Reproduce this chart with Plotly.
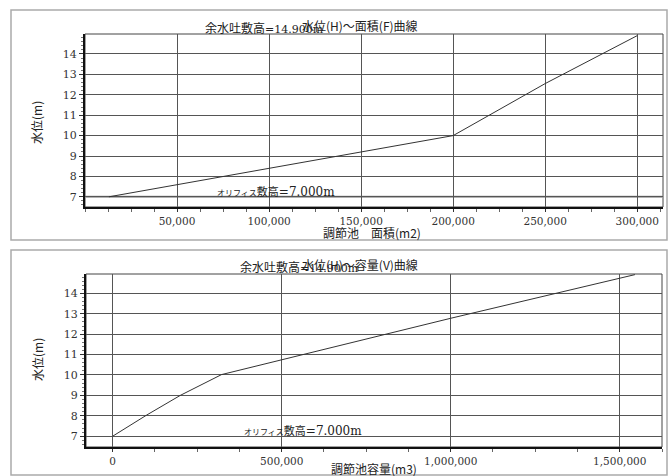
import plotly.graph_objects as go

W, H = 668, 476

# Data
area_x = [13000, 200000, 250000, 300000]
area_h = [7.0, 10.0, 12.55, 14.9]
vol_x = [0, 100000, 200000, 322000, 1000000, 1545000]
vol_h = [7.0, 8.03, 9.0, 10.02, 12.78, 14.92]

top_xticks = [50000, 100000, 150000, 200000, 250000, 300000]
bot_xticks = [0, 500000, 1000000, 1500000]
y_ticks = [7, 8, 9, 10, 11, 12, 13, 14]

top_title = "水位(H)～面積(F)曲線"
bot_title = "水位(H)～容量(V)曲線"
ser = "font-family:'DejaVu Serif'"
spill_label = f"余水吐敷高<span style=\"{ser};font-size:11px\">=14.900m</span>"
orifice_label = (f"<span style='font-size:8px'>オリフィス</span>敷高"
                 f"<span style=\"{ser};font-size:12px\">=7.000m</span>")
y_title = "水位(m)"
top_x_title = "調節池　面積(m2)"
bot_x_title = "調節池容量(m3)"

def px(x):
    return x / W

def py(y):
    return 1 - y / H

fig = go.Figure()
fig.add_trace(go.Scatter(x=area_x, y=area_h, mode="lines",
                         line=dict(color="#333", width=1), xaxis="x", yaxis="y",
                         showlegend=False, hoverinfo="skip"))
fig.add_trace(go.Scatter(x=vol_x, y=vol_h, mode="lines",
                         line=dict(color="#333", width=1), xaxis="x2", yaxis="y2",
                         showlegend=False, hoverinfo="skip"))

tickfont = dict(family="DejaVu Serif", size=10.5, color="#333")
cjk = "Noto Sans CJK JP"

def xax(domain, rng, tickvals, minor, anchor):
    return dict(domain=domain, range=rng, anchor=anchor, tickmode="array",
                tickvals=tickvals, tickformat=",d", showgrid=True,
                gridcolor="#555", gridwidth=1, zeroline=False,
                showline=True, linecolor="#111", linewidth=2,
                ticks="outside", ticklen=3, tickcolor="#333",
                minor=dict(dtick=minor, tick0=0, ticks="outside", ticklen=3,
                           tickcolor="#666", showgrid=False),
                tickfont=tickfont, fixedrange=True)

def yax(domain, rng, anchor):
    return dict(domain=domain, range=rng, anchor=anchor, tickmode="array",
                tickvals=y_ticks, showgrid=True, gridcolor="#555", gridwidth=1,
                zeroline=False, showline=True, linecolor="#111", linewidth=2,
                ticks="outside", ticklen=4, tickcolor="#333",
                minor=dict(dtick=0.2, tick0=0, ticks="outside", ticklen=2,
                           tickcolor="#777", showgrid=False),
                tickfont=dict(family="DejaVu Serif", size=11, color="#333"),
                fixedrange=True)

fig.update_layout(
    width=W, height=H, margin=dict(l=0, r=0, t=0, b=0),
    paper_bgcolor="white", plot_bgcolor="white",
    xaxis=xax([px(85), px(663)], [0, 314000], top_xticks, 12500, "y"),
    yaxis=yax([py(207), py(34)], [6.5, 14.98], "x"),
    xaxis2=xax([px(86), px(662)], [-79000, 1625000], bot_xticks, 125000, "y2"),
    yaxis2=yax([py(447), py(274)], [6.47, 14.95], "x2"),
)

shapes = []
shapes.append(dict(type="rect", xref="paper", yref="paper", x0=px(11), x1=px(667),
                   y0=py(240), y1=py(10), line=dict(color="#aaa", width=1.5), layer="below"))
shapes.append(dict(type="rect", xref="paper", yref="paper", x0=px(11), x1=px(667),
                   y0=py(475), y1=py(250), line=dict(color="#aaa", width=1.5), layer="below"))
for xr, yr in (("x", "y"), ("x2", "y2")):
    shapes.append(dict(type="rect", xref=f"{xr} domain", yref=f"{yr} domain",
                       x0=0, x1=1, y0=0, y1=1, line=dict(color="#444", width=1),
                       layer="below"))
shapes.append(dict(type="line", xref="x domain", yref="y", x0=0, x1=1, y0=7, y1=7,
                   line=dict(color="#999", width=2), layer="below"))
fig.update_layout(shapes=shapes)

ann = []
def text(x, y, t, size=12, xanchor="left", angle=0, color="#222"):
    ann.append(dict(x=px(x), y=py(y), xref="paper", yref="paper", text=t,
                    showarrow=False, xanchor=xanchor, yanchor="middle",
                    textangle=angle, font=dict(family=cjk, size=size, color=color)))

# top panel
text(420, 25, top_title, 12, "right")
text(203, 27, spill_label, 12, "left")
text(215, 191, orifice_label, 11, "left")
text(37, 123, y_title, 12, "center", -90)
text(372, 232, top_x_title, 12, "center")
# bottom panel
text(420, 264, bot_title, 12, "right")
text(238, 266, spill_label, 12, "left")
text(242, 430, orifice_label, 11, "left")
text(37, 360, y_title, 12, "center", -90)
text(374, 468, bot_x_title, 12, "center")

fig.update_layout(annotations=ann)
fig.write_html("out.html", config={"displayModeBar": False},
               post_script="document.body.style.margin='0';")
